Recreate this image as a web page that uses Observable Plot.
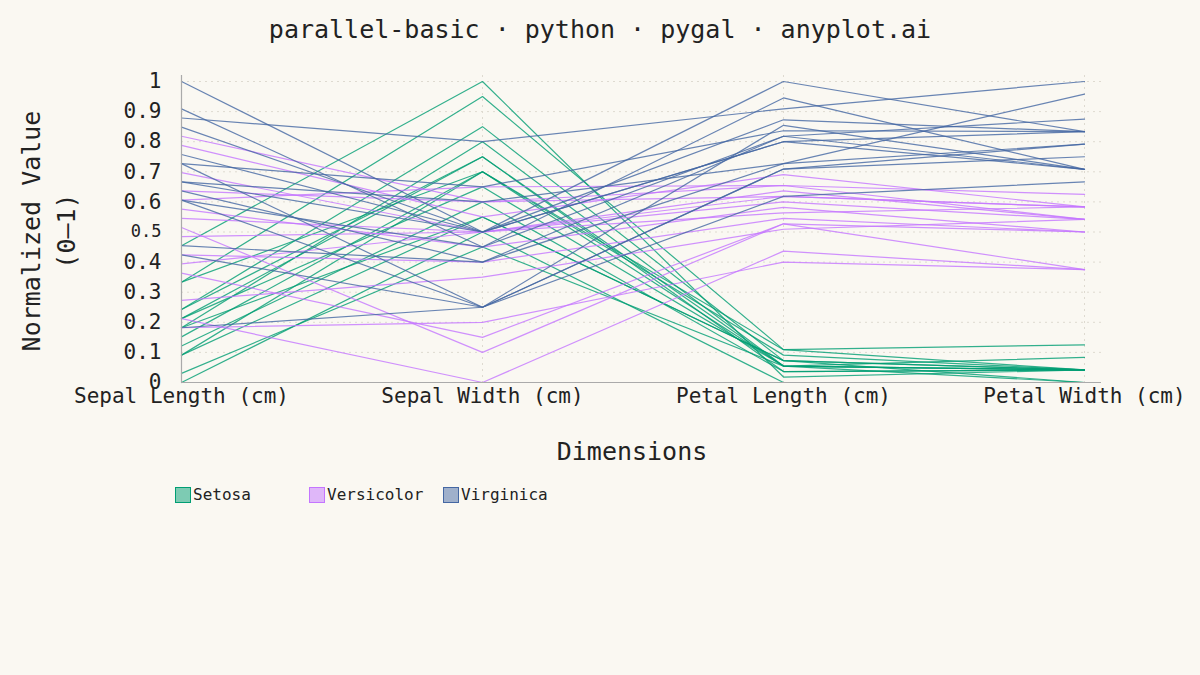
<!DOCTYPE html>
<html>
<head>
<meta charset="utf-8">
<script src="https://cdn.jsdelivr.net/npm/d3@7"></script>
<script src="https://cdn.jsdelivr.net/npm/@observablehq/plot@0.6"></script>
<style>
  html, body { margin: 0; padding: 0; background: #faf8f2; }
  #wrap { position: relative; width: 1200px; height: 675px; background: #faf8f2; overflow: hidden;
          font-family: "DejaVu Sans Mono", monospace; color: #222; }
  .abs { position: absolute; white-space: nowrap; }
  .rot { transform: translate(-50%, -50%) rotate(-90deg); }
  .legend-item { position: absolute; top: 485px; display: flex; align-items: center; font-size: 16px; }
  .swatch { width: 14px; height: 14px; border: 1.5px solid; margin-right: 2px; }
</style>
</head>
<body>
<div id="wrap"></div>
<script>
// ---- data (iris sample, cm) ----
const dimensions = ["Sepal Length (cm)", "Sepal Width (cm)", "Petal Length (cm)", "Petal Width (cm)"];
const speciesNames = ["Setosa", "Versicolor", "Virginica"];
const speciesColors = ["#009E73", "#C475FF", "#4467A3"];

const species = [
  "Setosa","Setosa","Setosa","Setosa","Setosa","Setosa","Setosa","Setosa","Setosa","Setosa","Setosa","Setosa","Setosa","Setosa","Setosa",
  "Versicolor","Versicolor","Versicolor","Versicolor","Versicolor","Versicolor","Versicolor","Versicolor","Versicolor","Versicolor","Versicolor","Versicolor","Versicolor","Versicolor","Versicolor",
  "Virginica","Virginica","Virginica","Virginica","Virginica","Virginica","Virginica","Virginica","Virginica","Virginica","Virginica","Virginica","Virginica","Virginica","Virginica"
];
const sepalLength = [
  4.3, 4.4, 4.6, 4.6, 4.7, 4.8, 4.9, 4.9, 5.0, 5.0, 5.1, 5.1, 5.4, 5.4, 5.8,
  7.0, 6.9, 6.6, 6.3, 6.4, 6.1, 6.0, 5.9, 5.7, 5.6, 5.5, 5.2, 5.0, 4.9, 6.2,
  7.6, 7.3, 7.2, 7.1, 6.8, 6.7, 6.5, 6.5, 6.7, 6.3, 6.3, 5.8, 5.7, 4.9, 6.4
];
const sepalWidth = [
  3.0, 2.9, 3.1, 3.4, 3.2, 3.4, 3.1, 3.6, 3.5, 3.3, 3.7, 3.5, 3.9, 3.4, 4.0,
  3.2, 3.1, 3.0, 3.3, 3.2, 3.0, 2.2, 3.0, 2.8, 3.0, 2.3, 2.7, 2.0, 2.4, 2.9,
  3.0, 2.9, 3.6, 3.0, 3.0, 2.5, 3.2, 3.0, 3.3, 2.9, 2.5, 2.8, 2.5, 2.5, 2.8
];
const petalLength = [
  1.1, 1.4, 1.5, 1.4, 1.3, 1.6, 1.5, 1.4, 1.3, 1.4, 1.5, 1.4, 1.7, 1.7, 1.2,
  4.7, 4.9, 4.4, 4.7, 4.5, 4.6, 4.0, 4.2, 4.1, 4.5, 4.0, 3.9, 3.5, 3.3, 4.3,
  6.6, 6.3, 6.1, 5.9, 5.5, 5.8, 5.1, 5.5, 5.7, 5.6, 5.0, 5.1, 5.0, 4.5, 5.6
];
const petalWidth = [
  0.1, 0.2, 0.2, 0.3, 0.2, 0.2, 0.1, 0.1, 0.2, 0.2, 0.2, 0.2, 0.4, 0.2, 0.2,
  1.4, 1.5, 1.4, 1.6, 1.5, 1.4, 1.0, 1.5, 1.3, 1.5, 1.3, 1.4, 1.0, 1.0, 1.3,
  2.1, 1.8, 2.5, 2.1, 2.1, 1.8, 2.0, 1.8, 2.1, 1.8, 1.9, 2.4, 2.0, 1.7, 2.2
];
const yTickValues = [0, 0.1, 0.2, 0.3, 0.4, 0.5, 0.6, 0.7, 0.8, 0.9, 1];
const yTickLabels = ["0", "0.1", "0.2", "0.3", "0.4", "0.5", "0.6", "0.7", "0.8", "0.9", "1"];

// ---- min-max normalisation per dimension ----
const columns = [sepalLength, sepalWidth, petalLength, petalWidth];
const extents = columns.map(c => d3.extent(c));
const long = [];
species.forEach((s, i) => {
  columns.forEach((col, j) => {
    const [lo, hi] = extents[j];
    long.push({id: i, species: s, dim: dimensions[j], value: (col[i] - lo) / (hi - lo)});
  });
});

const labelOf = v => yTickLabels[yTickValues.indexOf(v)];
const gridColor = "#dedad0";

const chart = Plot.plot({
  width: 1200,
  height: 675,
  marginLeft: 181,
  marginRight: 99,
  marginTop: 75,
  marginBottom: 293,
  style: {background: "transparent", fontFamily: "DejaVu Sans Mono, monospace", color: "#222", overflow: "visible"},
  x: {type: "point", domain: dimensions, range: [181, 1084], padding: 0},
  y: {domain: [0, 1], range: [382, 81]},
  color: {domain: speciesNames, range: speciesColors},
  marks: [
    Plot.ruleY(yTickValues.filter(v => v > 0), {stroke: gridColor, strokeDasharray: "2,4", strokeWidth: 1}),
    Plot.ruleX(dimensions.slice(1), {stroke: gridColor, strokeDasharray: "2,4", strokeWidth: 1}),
    Plot.line(long, {x: "dim", y: "value", z: "id", stroke: "species", strokeWidth: 1.2, strokeOpacity: 0.8}),
    Plot.ruleX([dimensions[0]], {stroke: "#aaa", strokeWidth: 1.2}),
    Plot.ruleY([0], {stroke: "#aaa", strokeWidth: 1.2}),
    Plot.axisY(yTickValues.filter(v => v !== 0.5), {tickSize: 0, tickPadding: 20, fontSize: 21, tickFormat: labelOf, label: null, fill: "#222"}),
    Plot.axisY([0.5], {tickSize: 0, tickPadding: 20, fontSize: 17, tickFormat: labelOf, label: null, fill: "#222"}),
    Plot.axisX({tickSize: 0, tickPadding: 6, fontSize: 21, label: null, fill: "#222"})
  ]
});

const wrap = document.getElementById("wrap");
chart.style.position = "absolute";
chart.style.left = "0px";
chart.style.top = "0px";
wrap.appendChild(chart);

function addText(txt, x, y, size, rotate) {
  const d = document.createElement("div");
  d.className = "abs" + (rotate ? " rot" : "");
  d.textContent = txt;
  d.style.left = x + "px";
  d.style.top = y + "px";
  d.style.fontSize = size + "px";
  if (!rotate) d.style.transform = "translate(-50%, -50%)";
  wrap.appendChild(d);
}
addText("parallel-basic · python · pygal · anyplot.ai", 600, 29, 25, false);
addText("Dimensions", 632, 451, 25, false);
addText("Normalized Value", 31, 231, 25, true);
addText("(0–1)", 66, 231, 25, true);

const legendX = [175, 309, 443];
speciesNames.forEach((name, i) => {
  const item = document.createElement("div");
  item.className = "legend-item";
  item.style.left = legendX[i] + "px";
  const sw = document.createElement("div");
  sw.className = "swatch";
  sw.style.borderColor = speciesColors[i];
  sw.style.background = d3.color(speciesColors[i]).copy({opacity: 0.5}).formatRgb();
  const t = document.createElement("span");
  t.textContent = name;
  item.appendChild(sw);
  item.appendChild(t);
  wrap.appendChild(item);
});
</script>
</body>
</html>
